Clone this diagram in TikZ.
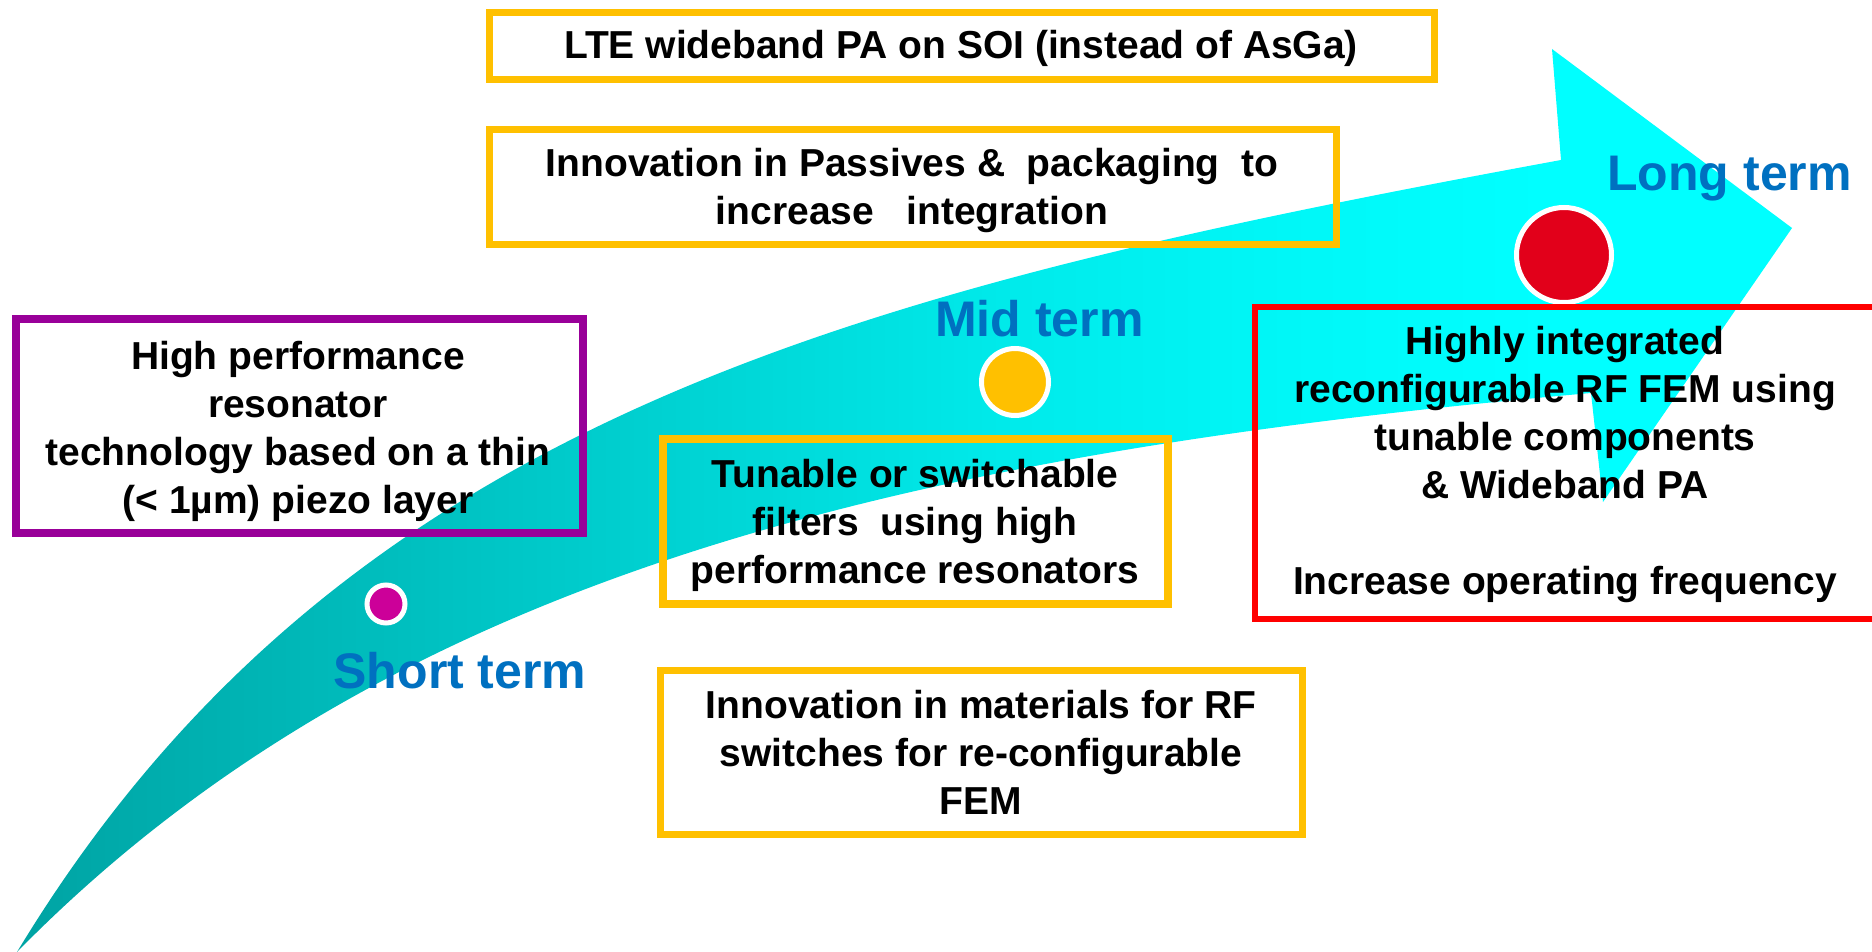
\documentclass[tikz,border=0pt]{standalone}
\usepackage{fontspec}
\setmainfont{Liberation Sans}
\definecolor{boxyellow}{RGB}{255,192,0}
\definecolor{boxpurple}{RGB}{153,0,153}
\definecolor{boxred}{RGB}{255,0,0}
\definecolor{termblue}{RGB}{0,112,192}
\definecolor{dotmagenta}{RGB}{204,0,153}
\definecolor{dotyellow}{RGB}{255,192,0}
\definecolor{dotred}{RGB}{226,0,26}
\pgfdeclarehorizontalshading{arrowshade}{100bp}{rgb(0bp)=(0,0.64,0.64); rgb(25bp)=(0,0.64,0.64); rgb(36bp)=(0,0.75,0.75); rgb(44bp)=(0,0.83,0.83); rgb(53bp)=(0,0.92,0.92); rgb(61bp)=(0,0.97,0.97); rgb(68bp)=(0,1,1); rgb(100bp)=(0,1,1)}
\begin{document}
\begin{tikzpicture}[x=1pt,y=-1pt,
  boxnode/.style={draw, line width=7pt, inner sep=0pt},
  txt/.style={font=\fontsize{39}{48}\selectfont\bfseries, align=center, inner sep=0pt, anchor=base},
  term/.style={font=\fontsize{50}{60}\selectfont\bfseries, text=termblue, inner sep=0pt, anchor=base},
  dot/.style={circle, draw=white, line width=5pt, inner sep=0pt},
]
\clip (0,0) rectangle (1872,952);
\useasboundingbox (0,0) rectangle (1872,952);

% curved arrow
\path[shading=arrowshade] (17,952) .. controls (341,416.5) and (857.5,289.5) .. (1561,160)
  -- (1552,49) -- (1792,228) -- (1603,502) -- (1591,393)
  .. controls (915,453) and (391,571) .. (17,952) -- cycle;

% dots
\node[dot, fill=dotmagenta, minimum size=38pt] (sdot) at (386,604) {};
\node[dot, fill=dotyellow, minimum size=67pt] (mdot) at (1015,382) {};
\node[dot, fill=dotred, minimum size=95pt] (ldot) at (1564,255) {};

% term labels
\node[term] (short) at (460,688) {Short term};
\node[term] (mid) at (1039.5,336) {Mid term};
\node[term] (long) at (1729.5,191) {Long term};

% boxes
\node[boxnode, draw=boxyellow, minimum width=945pt, minimum height=67pt] (ltebox) at (961.5,46.5) {};
\node[boxnode, draw=boxyellow, minimum width=847.5pt, minimum height=115pt] (pasbox) at (912.75,187) {};
\node[boxnode, draw=boxpurple, line width=8pt, minimum width=567pt, minimum height=214pt] (resbox) at (299.5,426) {};
\node[boxnode, draw=boxyellow, line width=8pt, minimum width=505.5pt, minimum height=164.7pt] (tunbox) at (915.25,521.35) {};
\node[boxnode, draw=boxyellow, minimum width=642pt, minimum height=164pt] (matbox) at (981,752) {};
\node[boxnode, draw=boxred, line width=6.5pt, minimum width=660pt, minimum height=312pt] (fembox) at (1585,463) {};

% box texts (anchored at the baseline of their last line)
\node[txt] (ltetxt) at (961,58.3) {LTE wideband PA on SOI (instead of AsGa)};
\node[txt] (pastxt) at (912,225) {Innovation in Passives \&\ \ packaging\ \ to\\increase\ \ \ integration};
\node[txt] (restxt) at (298,513) {High performance\\resonator\\technology based on a thin\\(< 1µm) piezo layer};
\node[txt] (tuntxt) at (915,583) {Tunable or switchable\\filters\ \ using high\\performance resonators};
\node[txt] (mattxt) at (981,814) {Innovation in materials for RF\\switches for re-configurable\\FEM};
\node[txt] (femtxt) at (1565,594) {Highly integrated\\reconfigurable RF FEM using\\tunable components\\\& Wideband PA\\[48pt]Increase operating frequency};
\end{tikzpicture}
\end{document}
